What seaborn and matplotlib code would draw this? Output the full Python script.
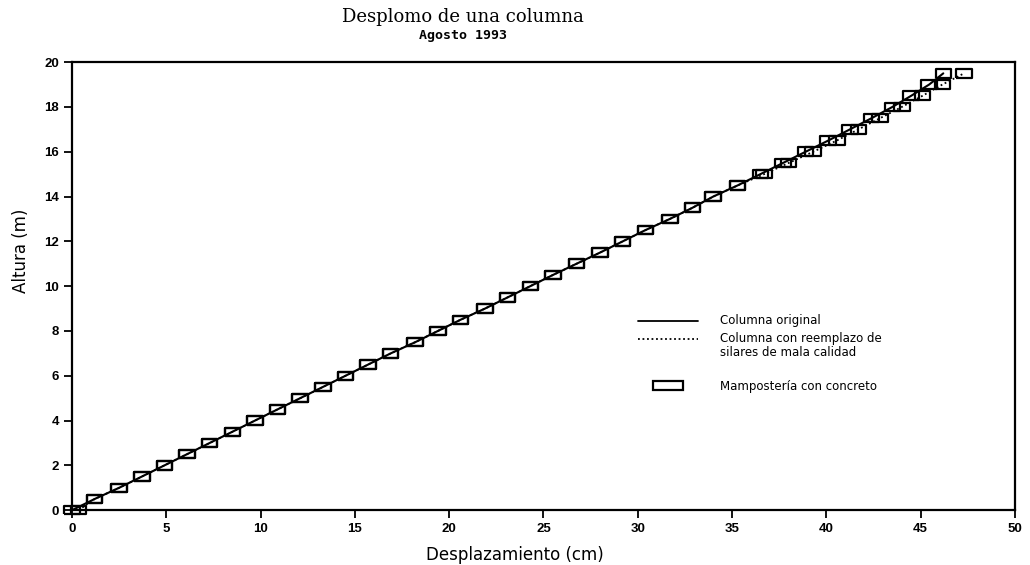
import matplotlib
matplotlib.use("Agg")
import matplotlib.pyplot as plt
from matplotlib.lines import Line2D
from matplotlib.patches import Rectangle
import seaborn as sns
import pandas as pd

# Height of each masonry block along the column (m)
altura = [0.0, 0.5, 1.0, 1.5, 2.0, 2.5, 3.0, 3.5, 4.0, 4.5,
          5.0, 5.5, 6.0, 6.5, 7.0, 7.5, 8.0, 8.5, 9.0, 9.5,
          10.0, 10.5, 11.0, 11.5, 12.0, 12.5, 13.0, 13.5, 14.0, 14.5,
          15.0, 15.5, 16.0, 16.5, 17.0, 17.5, 18.0, 18.5, 19.0, 19.5]

# Horizontal displacement of the original column (cm)
desplazamiento_original = [0.0, 1.2, 2.5, 3.7, 4.9, 6.1, 7.3, 8.5, 9.7, 10.9,
                           12.1, 13.3, 14.5, 15.7, 16.9, 18.2, 19.4, 20.6, 21.9, 23.1,
                           24.3, 25.5, 26.75, 28.0, 29.2, 30.4, 31.7, 32.9, 34.0, 35.3,
                           36.5, 37.7, 38.9, 40.1, 41.25, 42.4, 43.5, 44.5, 45.45, 46.2]

# Horizontal displacement after replacing poor-quality ashlars (cm)
desplazamiento_reemplazo = [0.35, 1.2, 2.5, 3.7, 4.9, 6.1, 7.3, 8.5, 9.7, 10.9,
                            12.1, 13.3, 14.5, 15.7, 16.9, 18.2, 19.4, 20.6, 21.9, 23.1,
                            24.3, 25.5, 26.75, 28.0, 29.2, 30.4, 31.7, 32.9, 34.0, 35.3,
                            36.7, 38.0, 39.3, 40.55, 41.7, 42.85, 44.0, 45.1, 46.15, 47.3]

x_ticks = [0, 5, 10, 15, 20, 25, 30, 35, 40, 45, 50]
y_ticks = [0, 2, 4, 6, 8, 10, 12, 14, 16, 18, 20]

df_orig = pd.DataFrame({"x": desplazamiento_original, "y": altura})
df_reem = pd.DataFrame({"x": desplazamiento_reemplazo, "y": altura})

sns.set_style("ticks")
plt.rcParams["font.family"] = ["DejaVu Sans"]
plt.rcParams["text.color"] = "black"
plt.rcParams["axes.labelcolor"] = "black"
plt.rcParams["xtick.color"] = "black"
plt.rcParams["ytick.color"] = "black"

fig = plt.figure(figsize=(10.3, 5.65), dpi=100)
ax = fig.add_axes([0.0699, 0.097, 0.9155, 0.793])

# rectangular block marker
bloque = [(-1, -0.55), (1, -0.55), (1, 0.55), (-1, 0.55), (-1, -0.55)]

sns.lineplot(data=df_orig, x="x", y="y", sort=False, estimator=None,
             color="black", linewidth=1.5, ax=ax)
sns.lineplot(data=df_reem, x="x", y="y", sort=False, estimator=None,
             color="black", linewidth=1.3, linestyle=(0, (1, 1.5)), ax=ax)
for d in (df_orig, df_reem):
    sns.scatterplot(data=d, x="x", y="y", marker=bloque, s=125,
                    facecolor="none", edgecolor="black", linewidth=1.6,
                    clip_on=False, ax=ax, zorder=3)

ax.set_xlim(0, 50)
ax.set_ylim(0, 20)
ax.set_xticks(x_ticks)
ax.set_yticks(y_ticks)
ax.set_xticklabels([str(t) for t in x_ticks], fontsize=9.5, fontweight="bold",
                   family="Liberation Sans")
ax.set_yticklabels([str(t) for t in y_ticks], fontsize=9.5, fontweight="bold",
                   family="Liberation Sans")
ax.tick_params(axis="both", direction="out", length=6, width=1.3, color="black")
ax.tick_params(axis="x", pad=3)
for sp in ax.spines.values():
    sp.set_visible(True)
    sp.set_linewidth(1.6)
    sp.set_color("black")

ax.set_xlabel("Desplazamiento (cm)", fontsize=12)
ax.set_ylabel("Altura (m)", fontsize=12)
ax.xaxis.set_label_coords(0.47, -0.08)
ax.yaxis.set_label_coords(-0.045, 0.58)

# legend drawn in axes coordinates
tr = ax.transAxes
ax.add_line(Line2D([0.600, 0.664], [0.4225, 0.4225], transform=tr,
                   color="black", linewidth=1.3))
ax.add_line(Line2D([0.600, 0.664], [0.381, 0.381], transform=tr,
                   color="black", linewidth=1.3, linestyle=(0, (1, 1.5))))
ax.add_patch(Rectangle((0.616, 0.269), 0.032, 0.02, transform=tr,
                       facecolor="none", edgecolor="black", linewidth=1.6))
kw = dict(transform=tr, fontsize=8.5, va="center", ha="left")
ax.text(0.687, 0.4225, "Columna original", **kw)
ax.text(0.687, 0.383, "Columna con reemplazo de", **kw)
ax.text(0.687, 0.353, "silares de mala calidad", **kw)
ax.text(0.687, 0.276, "Mampostería con concreto", **kw)

fig.text(463 / 1030, 1 - 17 / 565, "Desplomo de una columna",
         ha="center", va="center", fontsize=13, family="DejaVu Serif")
fig.text(463 / 1030, 1 - 35 / 565, "Agosto 1993",
         ha="center", va="center", fontsize=9.5, fontweight="bold",
         family="DejaVu Sans Mono")

fig.savefig("out.png", dpi=100, facecolor="white")
